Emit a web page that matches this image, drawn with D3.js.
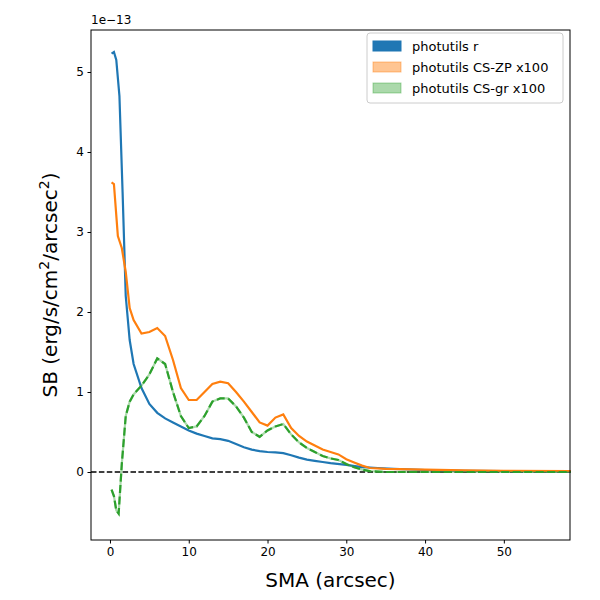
<!DOCTYPE html>
<html><head><meta charset="utf-8">
<script src="https://cdn.jsdelivr.net/npm/d3@7"></script>
<style>body{margin:0;background:#fff}text{font-family:"DejaVu Sans",sans-serif}</style>
</head><body><div id="c"></div>
<script>
// SMA (arcsec) and SB in units of 1e-13
const blueX = [0.2,0.5,0.8,1.2,1.6,2,2.5,3,4,5,6,7,8,9,10,11,12,13,14,15,16,17,18,19,20,21,22,23,24,25,26,27,28,30,32,34,36,40,45,50,58.5];
const blueY = [5.23,5.25,5.15,4.7,3.5,2.2,1.65,1.35,1.05,0.85,0.74,0.67,0.62,0.57,0.52,0.48,0.45,0.42,0.41,0.39,0.35,0.31,0.28,0.26,0.25,0.245,0.235,0.21,0.18,0.155,0.14,0.125,0.11,0.09,0.06,0.05,0.04,0.025,0.015,0.01,0.005];
const orangeX = [0.2,0.5,1,1.5,2,2.5,3,4,5,6,7,8,9,10,11,12,13,14,15,16,17,18,19,20,21,22,23,24,25,26,27,28,29,30,31,32,33,35,40,45,50,58.5];
const orangeY = [3.62,3.6,2.95,2.8,2.5,2.05,1.9,1.73,1.75,1.8,1.7,1.4,1.05,0.9,0.9,1.0,1.1,1.13,1.11,1.0,0.88,0.75,0.62,0.58,0.68,0.72,0.55,0.45,0.38,0.33,0.28,0.25,0.22,0.16,0.12,0.08,0.05,0.04,0.03,0.02,0.015,0.01];
const greenX = [0.2,0.5,0.8,1.1,1.5,2,2.5,3,4,5,6,7,8,9,10,11,12,13,14,15,16,17,18,19,20,21,22,23,24,25,26,27,28,29,30,31,32,33,35,40,50,58.5];
const greenY = [-0.22,-0.3,-0.48,-0.52,0.1,0.7,0.88,0.97,1.08,1.22,1.42,1.35,1.0,0.7,0.55,0.57,0.7,0.88,0.92,0.92,0.82,0.68,0.5,0.44,0.52,0.57,0.6,0.47,0.37,0.3,0.25,0.2,0.17,0.15,0.1,0.06,0.03,0.01,0,0,0,0];
const xTicks = [0,10,20,30,40,50];
const yTicks = [0,1,2,3,4,5];
const legendLabels = ["photutils r","photutils CS-ZP x100","photutils CS-gr x100"];

const W = 600, H = 600, L = 91, R = 570, T = 30, B = 540;
const svg = d3.select('#c').append('svg').attr('width', W).attr('height', H);
const x = d3.scaleLinear().domain([-2.41, 58.4]).range([L, R]);
const y = d3.scaleLinear().domain([-0.85, 5.525]).range([B, T]);

const gx = svg.append('g').attr('transform', 'translate(0,' + B + ')')
	.call(d3.axisBottom(x).tickValues(xTicks).tickFormat(d3.format('d')).tickSize(3.5).tickPadding(3.5));
const gy = svg.append('g').attr('transform', 'translate(' + L + ',0)')
	.call(d3.axisLeft(y).tickValues(yTicks).tickFormat(d3.format('d')).tickSize(3.5).tickPadding(3.5));
[gx, gy].forEach(g => {
	g.select('.domain').remove();
	g.selectAll('text').style('font-size', '12px').attr('fill', '#000');
	g.selectAll('line').attr('stroke', '#000');
});

const line = d3.line().x(d => x(d[0])).y(d => y(d[1]));
const zip = (a, b) => a.map((v, i) => [v, b[i]]);

svg.append('line').attr('x1', L).attr('x2', R).attr('y1', y(0)).attr('y2', y(0))
	.attr('stroke', '#000').attr('stroke-width', 1.5).attr('stroke-dasharray', '5.5,2.4');

svg.append('path').attr('d', line(zip(blueX, blueY))).attr('fill', 'none')
	.attr('stroke', '#1f77b4').attr('stroke-width', 2.2);
svg.append('path').attr('d', line(zip(orangeX, orangeY))).attr('fill', 'none')
	.attr('stroke', '#ff7f0e').attr('stroke-width', 2.2);
svg.append('path').attr('d', line(zip(greenX, greenY))).attr('fill', 'none')
	.attr('stroke', '#2ca02c').attr('stroke-opacity', 0.4).attr('stroke-width', 2.2);
svg.append('path').attr('d', line(zip(greenX, greenY))).attr('fill', 'none')
	.attr('stroke', '#2ca02c').attr('stroke-width', 2.2).attr('stroke-dasharray', '8,3.5');

svg.append('rect').attr('x', L).attr('y', T).attr('width', R - L).attr('height', B - T)
	.attr('fill', 'none').attr('stroke', '#000').attr('stroke-width', 1);

svg.append('text').attr('x', L).attr('y', T - 6).style('font-size', '12px').text('1e\u221213');
svg.append('text').attr('x', (L + R) / 2).attr('y', 587).attr('text-anchor', 'middle')
	.style('font-size', '20px').text('SMA (arcsec)');
const yl = svg.append('text').attr('transform', 'translate(57,' + ((T + B) / 2) + ') rotate(-90)')
	.attr('text-anchor', 'middle').style('font-size', '20px');
yl.append('tspan').text('SB (erg/s/cm');
yl.append('tspan').attr('dy', -8).style('font-size', '14px').text('2');
yl.append('tspan').attr('dy', 8).text('/arcsec');
yl.append('tspan').attr('dy', -8).style('font-size', '14px').text('2');
yl.append('tspan').attr('dy', 8).text(')');

// legend
const lg = svg.append('g').attr('transform', 'translate(367,37)');
lg.append('rect').attr('x', 0).attr('y', -4).attr('width', 196).attr('height', 70)
	.attr('rx', 3).attr('fill', '#fff').attr('fill-opacity', 0.8).attr('stroke', '#ccc');
const cols = [['#1f77b4', 1], ['#ff7f0e', 0.45], ['#2ca02c', 0.4]];
legendLabels.forEach((t, i) => {
	const g = lg.append('g').attr('transform', 'translate(6,' + (4 + i * 21) + ')');
	g.append('rect').attr('width', 28).attr('height', 10)
		.attr('fill', cols[i][0]).attr('fill-opacity', cols[i][1]).attr('stroke', cols[i][0]).attr('stroke-opacity', cols[i][1]);
	g.append('text').attr('x', 39).attr('y', 9.5).style('font-size', '13px').text(t);
});
</script></body></html>
